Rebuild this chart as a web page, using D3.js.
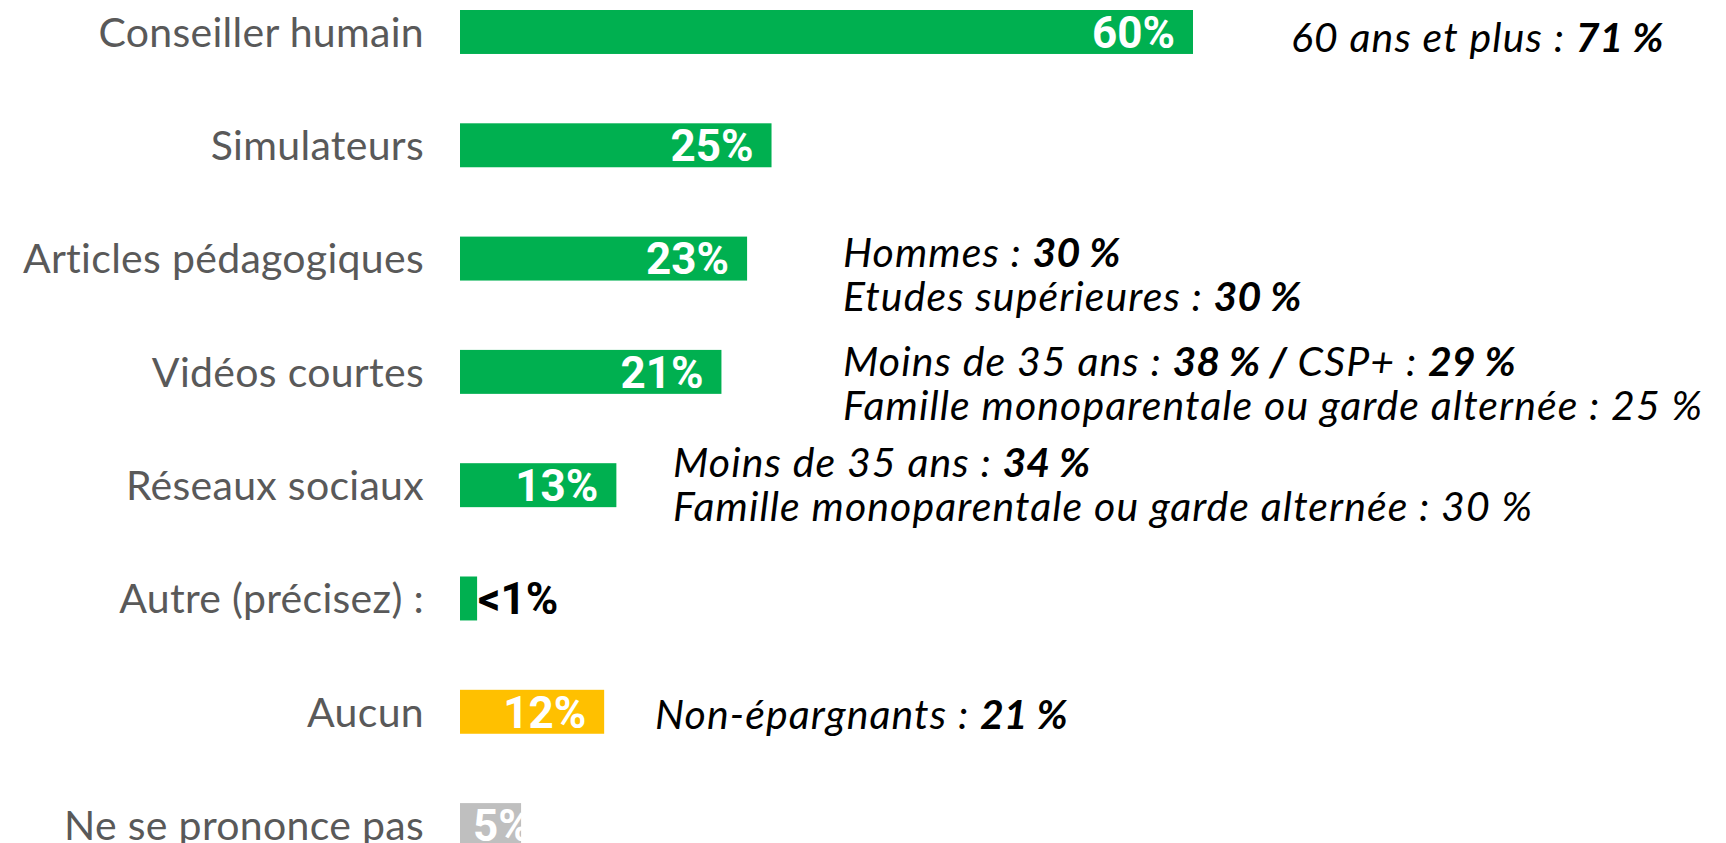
<!DOCTYPE html>
<html>
<head>
<meta charset="utf-8">
<script src="https://cdn.jsdelivr.net/npm/d3@7"></script>
<style>
  body { margin: 0; background: #fff; overflow: hidden; }
  text { font-family: Lato, "Open Sans", sans-serif; }
</style>
</head>
<body>
<script>
const w = 1726;
const h = 843;

// data
const categories = ["Conseiller humain", "Simulateurs", "Articles pédagogiques", "Vidéos courtes",
                    "Réseaux sociaux", "Autre (précisez) :", "Aucun", "Ne se prononce pas"];
const values = [60, 25.5, 23.5, 21.4, 12.8, 1.4, 11.8, 5.0];
const valueLabels = ["60%", "25%", "23%", "21%", "13%", "<1%", "12%", "5%"];
const barColors = ["#00B050", "#00B050", "#00B050", "#00B050", "#00B050", "#00B050", "#FFC000", "#BFBFBF"];

// sub-group call-outs, **...** = bold
const noteCats = ["Conseiller humain", "Articles pédagogiques", "Vidéos courtes", "Réseaux sociaux", "Aucun"];
const noteTexts = [
    ["60 ans et plus : **71 %**"],
    ["Hommes : **30 %**", "Etudes supérieures : **30 %**"],
    ["Moins de 35 ans : **38 % /** CSP+ : **29 %**", "Famille monoparentale ou garde alternée : 25 %"],
    ["Moins de 35 ans : **34 %**", "Famille monoparentale ou garde alternée : 30 %"],
    ["Non-épargnants : **21 %**"]
];

// layout of call-outs (left x, offset of first line from row centre)
const noteX = [1291, 843, 843, 673, 655];
const noteDy = [5, -6, -11, -23, 2];
const lineGap = 44;

const svg = d3.select("body")
    .append("svg")
    .attr("width", w)
    .attr("height", h);

const step = 113.3;
const pad = 0.612;
const yTop = 10 - step * pad / 2;

const yScale = d3.scaleBand()
    .domain(categories)
    .range([yTop, yTop + step * categories.length])
    .paddingInner(pad)
    .paddingOuter(pad / 2);

const xScale = d3.scaleLinear()
    .domain([0, 60])
    .range([460, 1193]);

const rows = categories.map((c, i) => ({cat: c, v: values[i], lab: valueLabels[i], col: barColors[i]}));

// category labels
svg.selectAll(".cat")
    .data(rows)
    .enter()
    .append("text")
    .attr("class", "cat")
    .attr("x", 424)
    .attr("y", d => yScale(d.cat) + yScale.bandwidth() / 2)
    .attr("dy", "0.36em")
    .attr("text-anchor", "end")
    .attr("fill", "#595959")
    .style("font-size", "41px")
    .style("letter-spacing", "0.3px")
    .text(d => d.cat);

// bars
svg.selectAll(".bar")
    .data(rows)
    .enter()
    .append("rect")
    .attr("class", "bar")
    .attr("x", xScale(0))
    .attr("y", d => yScale(d.cat))
    .attr("width", d => xScale(d.v) - xScale(0))
    .attr("height", yScale.bandwidth())
    .attr("fill", d => d.col);

// value labels
svg.selectAll(".val")
    .data(rows)
    .enter()
    .append("text")
    .attr("class", "val")
    .attr("y", d => yScale(d.cat) + yScale.bandwidth() / 2)
    .attr("dy", "0.36em")
    .attr("fill", d => d.lab.startsWith("<") ? "#000" : "#fff")
    .style("font-family", "Roboto, sans-serif")
    .style("font-weight", "bold")
    .style("font-size", "44px")
    .text(d => d.lab)
    .each(function(d) {
        const t = d3.select(this);
        const tw = this.getComputedTextLength();
        if (d.lab.startsWith("<")) {
            t.attr("x", xScale(d.v) + 1).attr("text-anchor", "start");
        } else {
            const endX = Math.max(xScale(d.v) - 18, xScale(0) + 13 + tw);
            t.attr("x", endX).attr("text-anchor", "end");
        }
    });

// call-outs
noteCats.forEach(function(c, i) {
    const cy = yScale(c) + yScale.bandwidth() / 2 + noteDy[i];
    noteTexts[i].forEach(function(line, j) {
        const t = svg.append("text")
            .attr("x", noteX[i])
            .attr("y", cy + j * lineGap)
            .attr("dy", "0.36em")
            .attr("fill", "#000")
            .style("font-style", "italic")
            .style("font-size", "41px");
        line.split("**").forEach(function(part, k) {
            if (part === "") return;
            t.append("tspan")
                .style("font-weight", k % 2 ? "bold" : "normal")
                .style("letter-spacing", k % 2 ? "0px" : "1.1px")
                .text(part);
        });
    });
});
</script>
</body>
</html>
